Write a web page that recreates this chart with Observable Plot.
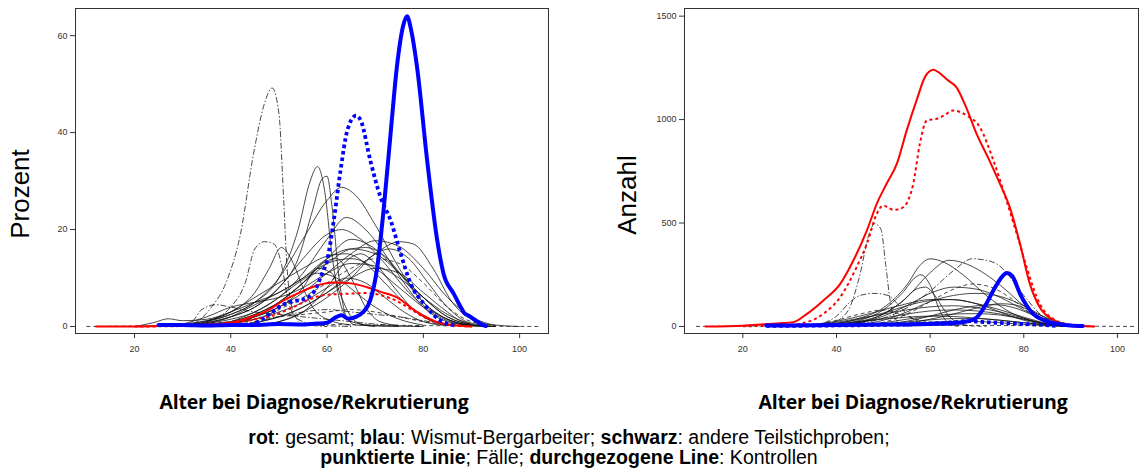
<!DOCTYPE html>
<html><head><meta charset="utf-8">
<script src="https://cdn.jsdelivr.net/npm/d3@7"></script>
<script src="https://cdn.jsdelivr.net/npm/@observablehq/plot@0.6"></script>
<style>
body{margin:0;background:#fff;}
#wrap{position:relative;width:1139px;height:470px;overflow:hidden;background:#fff;}
.panel{position:absolute;top:0;}
.ylab{position:absolute;font-family:"Liberation Sans",Arial,sans-serif;font-size:26px;color:#000;transform:translate(-50%,-50%) rotate(-90deg);white-space:nowrap;}
.xt{position:absolute;font-family:"Open Sans",sans-serif;font-weight:bold;font-size:19.5px;letter-spacing:-0.2px;color:#000;transform:translate(-50%,-50%);white-space:nowrap;}
.cap{position:absolute;left:569px;top:427px;transform:translateX(-50%);font-family:"Liberation Sans Narrow","Arial Narrow","Liberation Sans",sans-serif;font-size:19.5px;white-space:nowrap;text-align:center;line-height:20px;color:#000;}
</style></head>
<body>
<div id="wrap">
  <div class="panel" id="left" style="left:0px"></div>
  <div class="panel" id="right" style="left:600px"></div>
  <div class="ylab" style="left:20px;top:194px">Prozent</div>
  <div class="ylab" style="left:627px;top:195px">Anzahl</div>
  <div class="xt" style="left:314px;top:401px">Alter bei Diagnose/Rekrutierung</div>
  <div class="xt" style="left:913px;top:401px">Alter bei Diagnose/Rekrutierung</div>
  <div class="cap"><b>rot</b>: gesamt; <b>blau</b>: Wismut-Bergarbeiter; <b>schwarz</b>: andere Teilstichproben;<br><b>punktierte Linie</b>; Fälle; <b>durchgezogene Line</b>: Kontrollen</div>
</div>
<script>
// ---------- tick labels ----------
const xTicks = [20, 40, 60, 80, 100];
const leftYTicks = [0, 20, 40, 60];
const rightYTicks = [0, 500, 1000, 1500];

// ---------- LEFT PANEL (Prozent) : [age, value] ----------
const leftRedSolid = [[12,0],[20,0],[25,0.1],[30,0.2],[35,0.4],[40.6,0.9],[44,1.9],[47.6,3.3],[51,5.4],[54.5,7.1],[58,8.5],[61.4,9.1],[65,8.9],[68.3,8.1],[71,7.2],[74.5,6],[78.7,3],[82.9,0.9],[86,0.3],[90,0]];
const leftRedDotted = [[20,0],[30,0.1],[35,0.3],[40,0.7],[45,1.5],[48.9,2.3],[53,4],[55.9,5.4],[58,6.2],[60.7,6.6],[62.8,6.7],[65,6.8],[68.3,6.9],[71,6.5],[75,5],[78,3.2],[81,1.5],[85,0.4],[90,0]];
const leftBlueSolid = [[25,0.3],[30,0.3],[35,0.2],[40,0.3],[45,0.3],[50,0.5],[55,0.4],[58,0.6],[60,0.8],[62,2.0],[63,2.3],[64.5,1.6],[66,2.0],[67.5,3.0],[69,5.5],[70.4,12],[71.8,24.6],[73.2,39.8],[74.5,53.5],[75.8,62],[76.6,64],[77.5,61],[78.7,53.5],[80.8,34.2],[82.9,17.7],[84.2,10.9],[86.3,6.8],[87.5,4.5],[88.5,2.8],[89.5,2.2],[90.5,1.5],[92,0.5],[93,0.1]];
const leftBlueDotted = [[44,0.2],[46,1.2],[48,2.5],[50,4],[52,5],[54,5.4],[56,6],[57.5,7.5],[59,11],[60,13.6],[61.4,21.9],[62.8,32.2],[64.2,40.4],[66,43.5],[67,42.5],[69,34.2],[71.1,26.7],[73.2,21.9],[75.3,15],[77.4,8.8],[80.1,4.7],[83.6,1.2],[86.7,0.2]];
const leftBlack = [
  [[25,0.2],[30,0.5],[35,1.2],[40,2.5],[45,5],[50,10],[54,20],[56.5,30],[58,33],[59.5,28],[61,15],[63,4],[65,1],[70,0.2],[80,0]],
  [[30,0.2],[35,0.8],[40,2],[45,4],[50,8],[54,14],[57,24],[59,30.5],[60,31],[61,25],[62.5,10],[64,2],[66,0.3],[75,0]],
  [[30,0.3],[35,1],[40,2.5],[45,5],[50,10],[55,18],[60,26],[63,28.7],[66,27],[70,21],[75,12],[80,5],[85,1.5],[90,0.3],[95,0]],
  [[30,0],[33,1],[36,4],[39,9],[42,19],[44.8,36],[47,46],[48.6,49.2],[50,44],[51,26],[51.7,12],[53,3],[55,0.5],[60,0]],
  [[30,0],[35,1],[40,4],[43,9],[45,16],[47,17.5],[49,17],[50.5,13],[52,5],[54,1.5],[58,0.3],[65,0]],
  [[30,0.2],[40,1.5],[45,3],[50,6],[55,11],[60,18],[64,22.5],[68,20],[72,15],[76,9],[80,4],[85,1],[90,0.2],[95,0]],
  [[30,0.2],[40,2],[45,4],[50,8],[55,14],[60,19],[63,20],[67,18],[72,13],[77,7],[82,3],[87,0.8],[92,0.1]],
  [[35,0.2],[40,0.8],[45,2],[50,4],[55,7],[60,11],[65,15],[70,17.7],[75,16.5],[80,12],[85,6],[90,2],[95,0.3],[100,0]],
  [[40,0.2],[45,0.8],[50,2],[55,4],[60,7],[65,11],[70,15],[75,17.5],[78,17],[82,12],[86,5],[90,1.5],[95,0.2]],
  [[30,0.2],[40,1],[45,2.5],[50,5],[55,9],[60,13],[65,16],[68,16.3],[72,14.5],[76,10],[80,6],[85,2],[90,0.4]],
  [[30,0.3],[35,1.2],[40,3],[45,7],[48,12],[50.5,16.3],[53,13],[55,8],[57,4],[60,1.5],[65,0.3]],
  [[20,0],[24,0.8],[27,1.6],[30,1.2],[35,1.5],[40,3],[45,5],[50,7],[55,10],[60,13],[65,14],[70,12],[75,8],[80,4],[85,1.2],[90,0.2]],
  [[35,0.5],[40,2],[45,4.5],[50,7],[55,10],[60,14],[65,16],[70,15],[75,11],[80,6],[85,2],[90,0.3]],
  [[40,0.3],[45,1.5],[50,3.5],[55,6],[60,9],[65,12],[70,14],[75,13],[80,9],[85,4],[90,1],[95,0.2]],
  [[40,0.5],[45,1.5],[50,3],[55,5],[60,8],[64,10],[68,9],[72,6],[76,3],[80,1],[85,0.2]],
  [[35,0.3],[40,1],[45,2.5],[50,5],[55,9],[59,13],[62,14],[65,10],[68,4],[71,1],[75,0.2]],
  [[45,0.2],[50,1],[55,3],[60,8],[64,13.5],[67,15],[70,13],[74,8],[78,3.5],[82,1],[86,0.2]],
  [[40,0.2],[45,1],[50,2],[55,3],[60,3.5],[65,3],[70,2.5],[75,2],[80,1.2],[85,0.5],[90,0.2]],
  [[30,0.2],[40,1],[50,2],[60,3],[65,3.5],[70,3],[75,2],[80,1],[85,0.3],[95,0]],
  [[30,0.5],[35,2],[40,4],[45,5],[50,6],[55,8],[60,11],[65,13],[70,12.5],[75,10],[80,6],[85,2.5],[90,0.5]],
  [[45,0.3],[50,1],[55,3],[60,6],[65,10],[70,15],[73,16],[77,14],[81,9],[85,4],[89,1],[93,0.2]],
  [[40,0.2],[45,0.8],[50,2],[55,4],[60,7],[65,10],[70,12],[75,11],[80,7],[85,3],[88,1],[92,0.2]],
  [[40,0.5],[45,2],[50,5],[55,9],[60,14],[65,18],[70,16],[75,11],[80,5],[85,1.5],[90,0.2]],
  [[30,0],[32,1],[34,3.5],[37,4.5],[40,4],[45,3],[50,2.5],[55,2],[60,1.5],[65,1],[70,0.5],[80,0]],
  [[10,0],[20,0.1],[30,0.2],[40,0.3],[50,0.3],[60,0.4],[70,0.3],[80,0.2],[90,0.1],[104,0]],
  [[40,0.5],[45,2],[50,4],[55,8],[58,12],[61,11],[63,6],[65,2],[67,0.5],[70,0]],
  [[35,1],[40,3],[45,6],[50,9],[55,12],[60,14.5],[64,15],[68,13],[72,9],[76,5],[80,2],[85,0.5]],
  [[40,1],[45,3],[50,6],[54,9],[58,11],[62,10],[66,7],[70,4],[75,1.5],[80,0.3]]
];
const leftBlackStyle = ["solid","solid","solid","dashdot","dashdot","solid","solid","solid","solid","solid","solid","solid","solid","dashed","solid","solid","solid","dashdot","dashed","solid","solid","solid","solid","dashdot","dashed","solid","solid","solid"];

// ---------- RIGHT PANEL (Anzahl) : [age, value] ----------
const rightRedSolid = [[12,0],[20,4],[25,12],[28,16],[30.8,21],[33.7,61],[37.2,126],[40.8,206],[43.6,319],[46.5,464],[48.6,593],[50.7,690],[52.9,787],[55,948],[57.1,1093],[59,1210],[60.7,1241],[62,1225],[63.8,1190],[65.6,1157],[67.5,1070],[69.9,932],[72.5,810],[74.9,690],[77,577],[79.2,400],[81.3,206],[83.4,93],[86.3,32],[90.5,5],[95,0]];
const rightRedDotted = [[20,1],[25,3],[30,8],[33.7,21],[37.2,61],[40.8,142],[44.3,287],[46.5,400],[48.6,545],[50,585],[51,575],[52.1,564],[53,565],[54.3,577],[55.5,620],[56.4,690],[57.8,883],[59.3,996],[61.4,1004],[63,1020],[64.9,1044],[67.8,1020],[70.6,964],[73.5,803],[76.3,609],[78.5,448],[80.6,287],[83.4,110],[86,40],[90,8],[95,0]];
const rightBlueSolid = [[25,5],[30,5],[35,6],[40,7],[45,8],[50,9],[55,10],[60,12],[65,16],[68,25],[70,45],[72,110],[73.5,174],[75,230],[76.4,258],[77.5,245],[79.2,158],[80.5,105],[82,61],[83.5,38],[85.5,21],[88,10],[90,5],[92.6,2]];
const rightBlueDotted = [[25,3],[30,3],[35,4],[40,5],[45,6],[50,8],[55,10],[60,14],[65,20],[68,26],[71,22],[74,18],[78,14],[82,10],[85,6],[87,3]];
const rightBlack = [
  [[35,5],[40,15],[45,40],[50,90],[55,200],[58,300],[60,327],[63,310],[67,250],[72,150],[77,70],[82,25],[87,5],[92,0]],
  [[35,3],[40,10],[45,25],[50,60],[55,140],[60,260],[64,320],[68,300],[72,250],[76,180],[80,100],[85,30],[90,5]],
  [[40,5],[45,15],[50,40],[55,90],[60,170],[65,270],[69,327],[72,320],[75,290],[77,240],[80,150],[84,50],[88,10]],
  [[35,3],[40,10],[45,30],[50,80],[54,160],[57,240],[58,250],[60,200],[62,80],[64,15],[66,0]],
  [[35,0],[38,10],[41,40],[43,100],[45,250],[47,450],[48.2,497],[49.5,470],[50.5,300],[51.5,120],[52.5,40],[54,10],[56,0]],
  [[35,5],[40,50],[43,120],[45,150],[48,160],[51,150],[53,110],[55,60],[58,20],[62,5]],
  [[45,5],[50,20],[55,60],[60,120],[65,180],[69,205],[73,190],[77,140],[81,70],[85,20],[89,3]],
  [[40,5],[45,20],[50,50],[55,100],[60,160],[65,190],[70,180],[75,140],[80,80],[85,25],[90,4]],
  [[40,3],[45,10],[50,30],[55,70],[60,120],[65,150],[70,160],[75,145],[80,100],[85,40],[90,8]],
  [[30,2],[35,10],[40,25],[45,50],[50,80],[55,110],[60,130],[65,130],[70,110],[75,80],[80,45],[85,15],[90,3]],
  [[30,3],[40,20],[45,40],[50,60],[55,80],[60,95],[65,100],[70,90],[75,70],[80,40],[85,12],[90,2]],
  [[35,2],[40,8],[45,20],[50,40],[55,60],[60,75],[65,80],[70,75],[75,60],[80,35],[85,10],[90,2]],
  [[40,2],[45,8],[50,18],[55,35],[60,50],[65,60],[70,62],[75,55],[80,35],[85,12],[90,2]],
  [[30,3],[40,12],[45,25],[50,35],[55,45],[60,50],[65,48],[70,40],[75,30],[80,18],[85,6],[90,1]],
  [[40,2],[45,5],[50,12],[55,22],[60,32],[65,38],[70,38],[75,30],[80,18],[85,6],[90,1]],
  [[45,2],[50,6],[55,12],[60,20],[65,25],[70,24],[75,18],[80,10],[85,3],[90,0]],
  [[40,5],[45,20],[50,60],[54,120],[57,180],[59,190],[61,150],[63,80],[65,30],[68,5]],
  [[35,5],[40,30],[45,60],[50,80],[52,70],[55,50],[58,30],[62,15],[67,5],[72,0]],
  [[10,0],[20,2],[30,3],[40,5],[50,6],[60,6],[70,5],[80,4],[90,2],[104,0]],
  [[50,5],[55,15],[60,35],[65,60],[70,90],[75,110],[78,105],[82,70],[86,30],[90,6]],
  [[45,3],[50,10],[55,25],[60,50],[65,80],[70,100],[74,105],[78,90],[82,55],[86,20],[90,3]],
  [[35,4],[40,15],[45,35],[50,65],[55,100],[60,125],[64,130],[68,120],[72,95],[76,60],[80,30],[85,8]]
];
const rightBlackStyle = ["solid","solid","dashdot","solid","dashdot","dashdot","dashed","solid","solid","solid","solid","solid","solid","solid","solid","solid","solid","dashed","dashed","solid","solid","solid"];

// ---------- build ----------
const dashes = {solid: null, dashed: "4,3", dashdot: "6,2,1.5,2"};
function toRows(pairs, id, style) { return pairs.map(([age, val]) => ({id, age, val, style})); }
function blackRows(list, styles) { return list.flatMap((c, i) => toRows(c, i, styles[i])); }

function panel(opts) {
  const black = blackRows(opts.black, opts.styles);
  const marks = [];
  for (const s of ["solid", "dashed", "dashdot"]) {
    marks.push(Plot.line(black.filter(d => d.style === s), {
      x: "age", y: "val", z: "id", stroke: "#111", strokeWidth: 0.85, strokeOpacity: 0.9,
      strokeDasharray: dashes[s], strokeLinecap: "butt", curve: "monotone-x"
    }));
  }
  marks.push(Plot.line(toRows(opts.redSolid, "rs"), {x: "age", y: "val", stroke: "#ff0000", strokeWidth: 2, curve: "monotone-x"}));
  marks.push(Plot.line(toRows(opts.redDotted, "rd"), {x: "age", y: "val", stroke: "#ff0000", strokeWidth: 2, strokeDasharray: "3,3", strokeLinecap: "butt", curve: "monotone-x"}));
  marks.push(Plot.line(toRows(opts.blueDotted, "bd"), {x: "age", y: "val", stroke: "#0000ff", strokeWidth: 3.8, strokeDasharray: "3.5,3", strokeLinecap: "butt", curve: "monotone-x"}));
  marks.push(Plot.line(toRows(opts.blueSolid, "bs"), {x: "age", y: "val", stroke: "#0000ff", strokeWidth: 4, strokeLinejoin: "round", curve: "monotone-x"}));
  marks.push(Plot.axisY({ticks: opts.yTicks, tickFormat: d => String(d), tickSize: 5, tickPadding: 3, label: null}));
  marks.push(Plot.axisX({ticks: xTicks, tickFormat: d => String(d), tickSize: 5, tickPadding: 7, label: null}));
  marks.push(Plot.frame({stroke: "#333"}));
  return Plot.plot({
    width: opts.width, height: 360,
    marginLeft: opts.marginLeft, marginRight: opts.marginRight, marginTop: 8, marginBottom: 27,
    x: {domain: opts.xDomain},
    y: {domain: opts.yDomain},
    clip: true,
    style: {fontSize: "9px", fontFamily: "'Liberation Sans', Arial, sans-serif", color: "#333", background: "white", overflow: "visible"},
    marks
  });
}

document.getElementById("left").append(panel({
  width: 560, marginLeft: 75, marginRight: 12,
  xDomain: [7.75, 106], yDomain: [-1.44, 65.6], yTicks: leftYTicks,
  black: leftBlack, styles: leftBlackStyle,
  redSolid: leftRedSolid, redDotted: leftRedDotted, blueSolid: leftBlueSolid, blueDotted: leftBlueDotted
}));
document.getElementById("right").append(panel({
  width: 539, marginLeft: 84, marginRight: 1,
  xDomain: [7.54, 104.5], yDomain: [-34, 1537], yTicks: rightYTicks,
  black: rightBlack, styles: rightBlackStyle,
  redSolid: rightRedSolid, redDotted: rightRedDotted, blueSolid: rightBlueSolid, blueDotted: rightBlueDotted
}));
</script>
</body></html>
